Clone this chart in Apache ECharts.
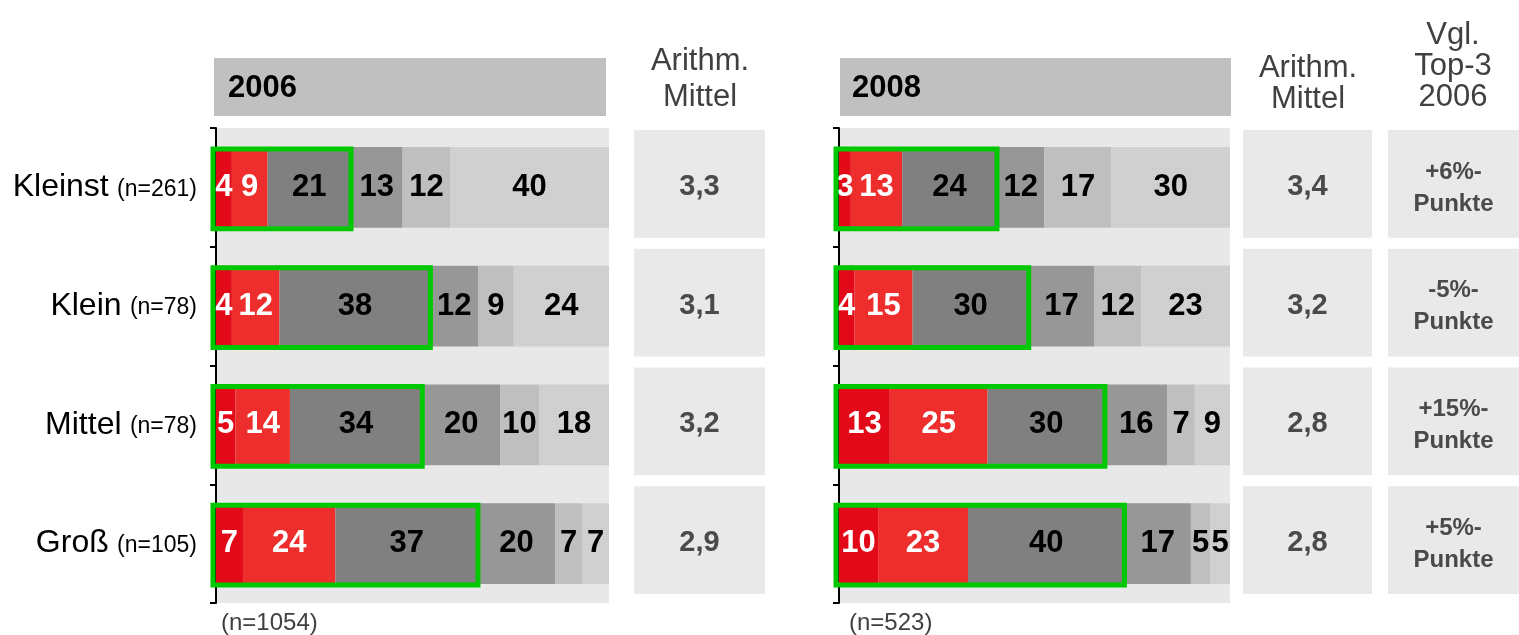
<!DOCTYPE html>
<html>
<head>
<meta charset="utf-8">
<script src="https://cdn.jsdelivr.net/npm/echarts@6/dist/echarts.min.js"></script>
<style>
  html, body { margin: 0; padding: 0; background: #fff; }
  #chart { width: 1519px; height: 635px; }
</style>
</head>
<body>
<div id="chart"></div>
<script>
  // Kategorien (Unternehmensgröße) und Stichproben
  var categories = ['Kleinst', 'Klein', 'Mittel', 'Groß'];
  var sampleSizes = ['(n=261)', '(n=78)', '(n=78)', '(n=105)'];

  // Anteile je Bewertungsstufe (1..6), je Kategorie
  var values2006 = [
    [4, 4, 5, 7],
    [9, 12, 14, 24],
    [21, 38, 34, 37],
    [13, 12, 20, 20],
    [12, 9, 10, 7],
    [40, 24, 18, 7]
  ];
  var values2008 = [
    [3, 4, 13, 10],
    [13, 15, 25, 23],
    [24, 30, 30, 40],
    [12, 17, 16, 17],
    [17, 12, 7, 5],
    [30, 23, 9, 5]
  ];

  var mean2006 = ['3,3', '3,1', '3,2', '2,9'];
  var mean2008 = ['3,4', '3,2', '2,8', '2,8'];
  var top3Change = ['+6%-\nPunkte', '-5%-\nPunkte', '+15%-\nPunkte', '+5%-\nPunkte'];

  var chart = echarts.init(document.getElementById('chart'));
  var FONT = '"Liberation Sans", Arial, sans-serif';

  function pattern(c1, c2, mode) {
    var cv = document.createElement('canvas');
    cv.width = 4; cv.height = 4;
    var ctx = cv.getContext('2d');
    ctx.fillStyle = c1;
    ctx.fillRect(0, 0, 4, 4);
    ctx.fillStyle = c2;
    if (mode === 'stripes') {
      ctx.fillRect(1, 0, 1, 4);
      ctx.fillRect(3, 0, 1, 4);
    } else {
      ctx.fillRect(0, 0, 1, 1);
      ctx.fillRect(2, 0, 1, 1);
      ctx.fillRect(1, 2, 1, 1);
      ctx.fillRect(3, 2, 1, 1);
    }
    return { image: cv, repeat: 'repeat' };
  }

  var segColors = [
    '#e20a18',
    pattern('#f1302e', '#ea2c2c', 'stripes'),
    '#808080',
    '#979797',
    '#bfbfbf',
    pattern('#d3d3d3', '#c6c6c6', 'dots')
  ];
  var labelColors = ['#fff', '#fff', '#000', '#000', '#000', '#000'];

  function rowSums(values) {
    return categories.map(function (c, i) {
      return values.reduce(function (s, arr) { return s + arr[i]; }, 0);
    });
  }

  function barSeries(values, gridIdx) {
    var sums = rowSums(values);
    return values.map(function (arr, k) {
      return {
        type: 'bar',
        stack: 'total' + gridIdx,
        xAxisIndex: gridIdx,
        yAxisIndex: gridIdx,
        barWidth: '68%',
        itemStyle: { color: segColors[k] },
        label: {
          show: true,
          position: 'inside',
          color: labelColors[k],
          fontFamily: FONT,
          fontWeight: 'bold',
          fontSize: 31,
          formatter: function (p) { return p.data.raw; }
        },
        data: arr.map(function (v, i) {
          return { value: v / sums[i] * 100, raw: v };
        })
      };
    });
  }

  function top3Series(values, gridIdx) {
    var sums = rowSums(values);
    return {
      type: 'custom',
      xAxisIndex: gridIdx,
      yAxisIndex: gridIdx,
      z: 10,
      silent: true,
      data: categories.map(function (c, i) {
        return [(values[0][i] + values[1][i] + values[2][i]) / sums[i] * 100, i];
      }),
      renderItem: function (params, api) {
        var p0 = api.coord([0, api.value(1)]);
        var p1 = api.coord([api.value(0), api.value(1)]);
        var h = api.size([0, 1])[1] * 0.68;
        return {
          type: 'rect',
          shape: { x: p0[0] - 3, y: p0[1] - h / 2 + 2, width: p1[0] - p0[0] + 3, height: h - 1 },
          style: { fill: null, stroke: '#00c800', lineWidth: 5 }
        };
      }
    };
  }

  function boxSeries(texts, gridIdx, fontSize, lineHeight, dy) {
    return {
      type: 'custom',
      xAxisIndex: gridIdx,
      yAxisIndex: gridIdx,
      silent: true,
      data: categories.map(function (c, i) { return [0, i]; }),
      renderItem: function (params, api) {
        var c = api.coord([0, api.value(1)]);
        var band = api.size([0, 1])[1];
        var cs = params.coordSys;
        var top = c[1] - band / 2 + 2;
        var h = band - 11;
        return {
          type: 'group',
          children: [{
            type: 'rect',
            shape: { x: cs.x, y: top, width: cs.width, height: h },
            style: { fill: '#e9e9e9' }
          }, {
            type: 'text',
            style: {
              text: texts[params.dataIndex],
              x: cs.x + cs.width / 2,
              y: top + h / 2 + dy,
              align: 'center',
              verticalAlign: 'middle',
              fill: '#4a4a4a',
              fontFamily: FONT,
              fontWeight: 'bold',
              fontSize: fontSize,
              lineHeight: lineHeight
            }
          }]
        };
      }
    };
  }

  var grids = [
    { left: 216, width: 393, top: 128, bottom: 32 },
    { left: 839, width: 391, top: 128, bottom: 32 },
    { left: 634, width: 131, top: 128, bottom: 32 },
    { left: 1243, width: 129, top: 128, bottom: 32 },
    { left: 1388, width: 131, top: 128, bottom: 32 }
  ];
  grids[0].show = true; grids[0].backgroundColor = '#e8e8e8'; grids[0].borderWidth = 0;
  grids[1].show = true; grids[1].backgroundColor = '#e8e8e8'; grids[1].borderWidth = 0;

  var xAxes = grids.map(function (g, i) {
    return { gridIndex: i, type: 'value', min: 0, max: i < 2 ? 100 : 1, show: false };
  });

  var yAxes = grids.map(function (g, i) {
    var ax = {
      gridIndex: i,
      type: 'category',
      inverse: true,
      data: categories,
      show: i < 2,
      axisLine: { show: true, lineStyle: { color: '#000', width: 2 } },
      axisTick: { show: true, length: 6, lineStyle: { color: '#000', width: 2 } },
      splitLine: { show: false },
      axisLabel: { show: false }
    };
    if (i === 0) {
      ax.axisLabel = {
        show: true,
        margin: 19,
        fontSize: 30,
        formatter: function (value, idx) {
          return '{a|' + value + '} {b|' + sampleSizes[idx] + '}';
        },
        rich: {
          a: { fontFamily: FONT, fontSize: 32, color: '#000' },
          b: { fontFamily: FONT, fontSize: 23, color: '#000', padding: [4, 0, 0, 0] }
        }
      };
    }
    return ax;
  });

  function headerText(x, y, text, lh) {
    return {
      type: 'text',
      x: x, y: y,
      style: {
        text: text, align: 'center', verticalAlign: 'top',
        fontFamily: FONT, fontSize: 31, lineHeight: lh, fill: '#404040'
      }
    };
  }

  var option = {
    animation: false,
    backgroundColor: '#fff',
    grid: grids,
    xAxis: xAxes,
    yAxis: yAxes,
    graphic: [
      { type: 'rect', shape: { x: 214, y: 58, width: 392, height: 58 }, style: { fill: '#c0c0c0' } },
      { type: 'text', x: 228, y: 88, style: { text: '2006', verticalAlign: 'middle', fontFamily: FONT, fontWeight: 'bold', fontSize: 31, fill: '#000' } },
      { type: 'rect', shape: { x: 840, y: 58, width: 391, height: 58 }, style: { fill: '#c0c0c0' } },
      { type: 'text', x: 852, y: 88, style: { text: '2008', verticalAlign: 'middle', fontFamily: FONT, fontWeight: 'bold', fontSize: 31, fill: '#000' } },
      headerText(700, 43, 'Arithm.\nMittel', 36),
      headerText(1308, 53, 'Arithm.\nMittel', 31),
      headerText(1453, 20, 'Vgl.\nTop-3\n2006', 31),
      { type: 'text', x: 221, y: 623, style: { text: '(n=1054)', verticalAlign: 'middle', fontFamily: FONT, fontSize: 24, fill: '#404040' } },
      { type: 'text', x: 849, y: 623, style: { text: '(n=523)', verticalAlign: 'middle', fontFamily: FONT, fontSize: 24, fill: '#404040' } }
    ],
    series: []
      .concat(barSeries(values2006, 0))
      .concat([top3Series(values2006, 0)])
      .concat(barSeries(values2008, 1))
      .concat([top3Series(values2008, 1)])
      .concat([
        boxSeries(mean2006, 2, 29, 30, 3),
        boxSeries(mean2008, 3, 29, 30, 3),
        boxSeries(top3Change, 4, 24, 32, 4)
      ])
  };

  chart.setOption(option);
</script>
</body>
</html>
